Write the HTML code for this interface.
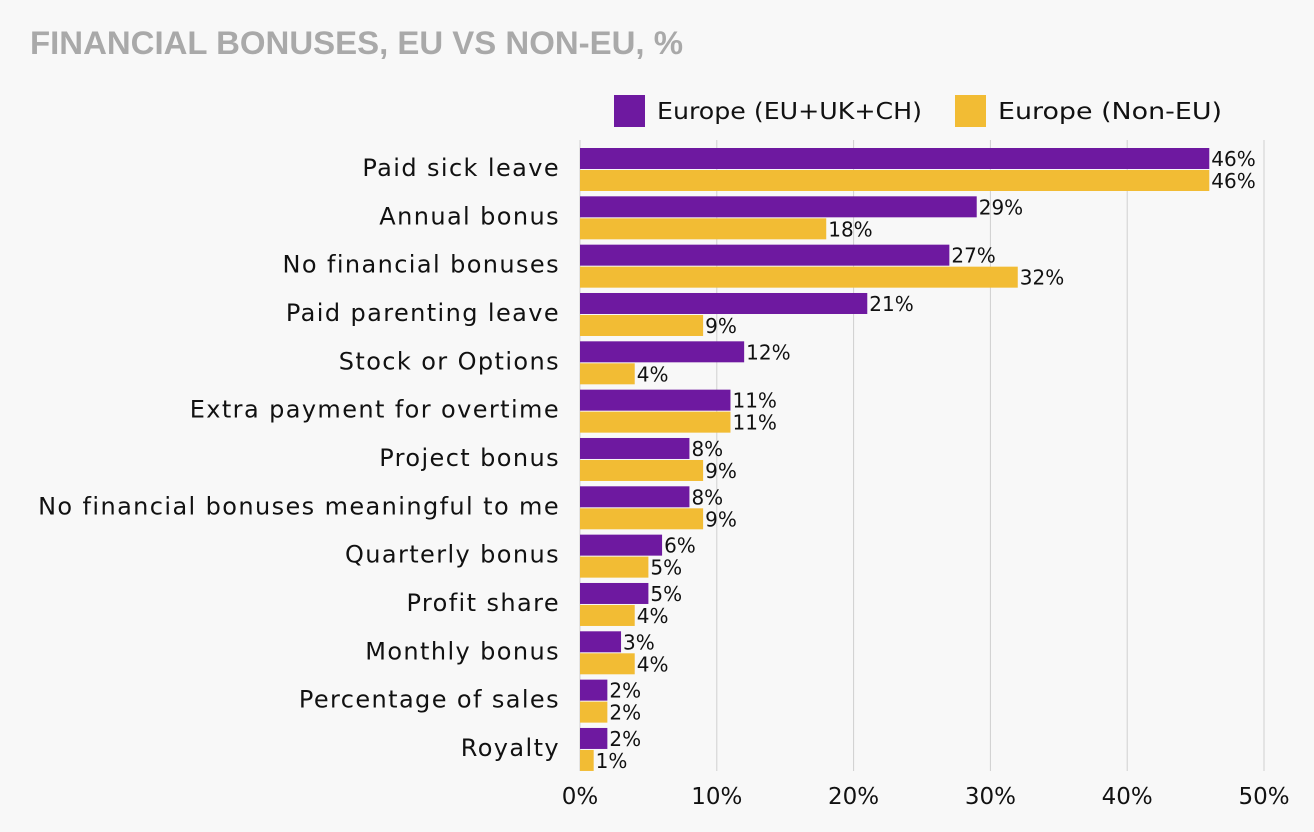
<!DOCTYPE html>
<html><head><meta charset="utf-8"><style>
html,body{margin:0;padding:0;background:#f8f8f8;}
svg{display:block;font-family:"DejaVu Sans","Liberation Sans",sans-serif;}
</style></head><body>
<svg id="chart" width="1314" height="832">
<text x="30" y="54" font-size="32" font-weight="bold" fill="#a9a9a9" textLength="653" lengthAdjust="spacingAndGlyphs" font-family="Liberation Sans, sans-serif">FINANCIAL BONUSES, EU VS NON-EU, %</text>
<g>
<rect x="614" y="95" width="31" height="32" fill="#6e19a0"/>
<text x="657" y="119" font-size="23" fill="#111" textLength="265" lengthAdjust="spacingAndGlyphs">Europe (EU+UK+CH)</text>
<rect x="955" y="95" width="31" height="32" fill="#f2bc34"/>
<text x="998" y="119" font-size="23" fill="#111" textLength="224" lengthAdjust="spacingAndGlyphs">Europe (Non-EU)</text>
</g>
<g id="grid"></g><g id="bars"></g><g id="labels"></g>
</svg>
<script>
const categories=["Paid sick leave","Annual bonus","No financial bonuses","Paid parenting leave","Stock or Options","Extra payment for overtime","Project bonus","No financial bonuses meaningful to me","Quarterly bonus","Profit share","Monthly bonus","Percentage of sales","Royalty"];
const euValues=[46,29,27,21,12,11,8,8,6,5,3,2,2];
const nonEuValues=[46,18,32,9,4,11,9,9,5,4,4,2,1];
const ticks=[0,10,20,30,40,50];
const NS="http://www.w3.org/2000/svg";
const x0=580,x1=1264,xMax=50;
const xs=v=>x0+(x1-x0)*v/xMax;
const rowTop=i=>148+i*48.33;
function mk(tag,attrs,parent,txt){const e=document.createElementNS(NS,tag);for(const k in attrs)e.setAttribute(k,attrs[k]);if(txt!==undefined)e.textContent=txt;parent.appendChild(e);return e;}
const grid=document.getElementById('grid'),bars=document.getElementById('bars'),labels=document.getElementById('labels');
ticks.forEach(t=>{
 if(t>0){const l=mk('line',{x1:xs(t),x2:xs(t),y1:140,y2:771,stroke:'#cfcfcf','stroke-width':1},grid);
 
 }
 const tx=mk('text',{x:xs(t),y:804,'font-size':23,'text-anchor':'middle',fill:'#111'},grid,t+'%');
 
 
});
mk('line',{x1:x0,x2:x0,y1:140,y2:771,stroke:'#cfcfcf'},grid);
categories.forEach((c,i)=>{
 const y=rowTop(i);
 const lab=mk('text',{x:560,y:y+28,'font-size':24,'letter-spacing':1.4,'text-anchor':'end',fill:'#111'},labels,c);
 
 
 const b1=mk('rect',{x:x0,y:y,width:xs(euValues[i])-x0,height:21,fill:'#6e19a0'},bars);
 
 
 const b2=mk('rect',{x:x0,y:y+22,width:xs(nonEuValues[i])-x0,height:21,fill:'#f2bc34'},bars);
 
 
 const v1=mk('text',{x:xs(euValues[i])+2,y:y+18,'font-size':20,fill:'#111'},labels,euValues[i]+'%');
 
 
 const v2=mk('text',{x:xs(nonEuValues[i])+2,y:y+40,'font-size':20,fill:'#111'},labels,nonEuValues[i]+'%');
 
 
});
</script>
</body></html>
